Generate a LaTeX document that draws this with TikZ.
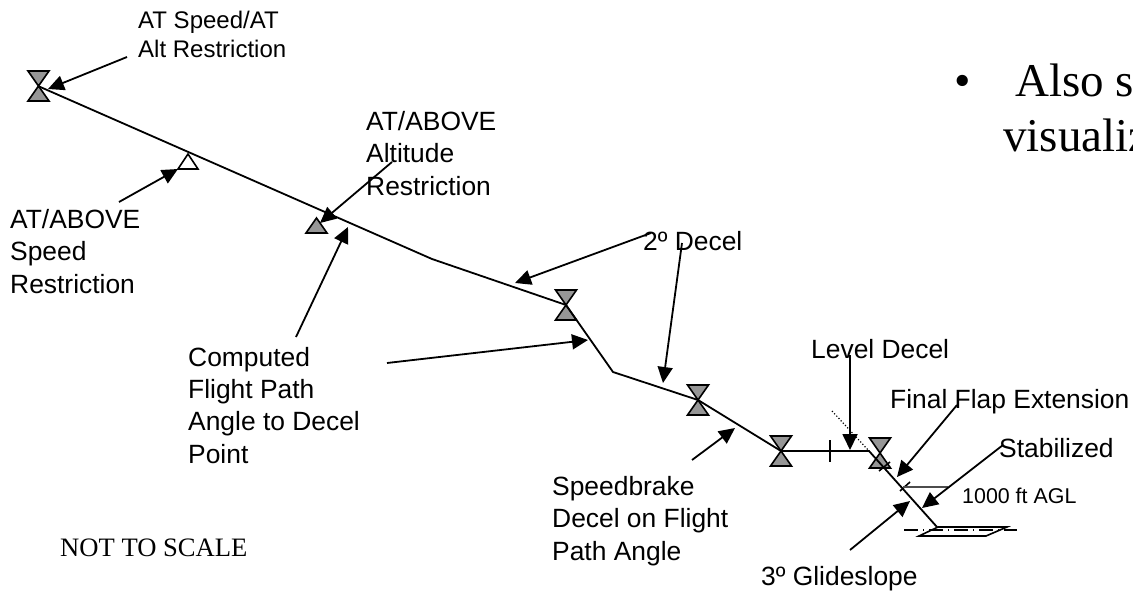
\documentclass[tikz,border=0pt]{standalone}
\usepackage{fontspec}
\setmainfont{Liberation Sans}
\newfontfamily\slidefont{Liberation Serif}
\usepackage{tikz}
\usetikzlibrary{arrows.meta}
\definecolor{FixGray}{HTML}{969696}
\tikzset{
  lbl/.style={anchor=base west,inner sep=0pt,align=left,font=\fontsize{26.4}{32.2}\selectfont},
  lblsmall/.style={anchor=base west,inner sep=0pt,align=left,font=\fontsize{24}{29}\selectfont},
  slidetext/.style={anchor=base west,inner sep=0pt,font=\slidefont\fontsize{47}{47}\selectfont},
  callout/.style={draw,line width=1.8pt,-{Triangle[length=16pt,width=15pt]}},
  flightpath/.style={draw,line width=1.8pt},
  hourglass/.pic={
    \draw[fill=FixGray,line width=1.6pt] (-10.5,-15) -- (10.5,-15) -- (0,0) -- cycle;
    \draw[fill=FixGray,line width=1.6pt] (-10.5,15) -- (10.5,15) -- (0,0) -- cycle;
  }
}
\begin{document}
\begin{tikzpicture}[x=1pt,y=-1pt]
  \useasboundingbox (0,0) rectangle (1133,591);
  \clip (0,0) rectangle (1133,591);

  % Flight path points
  \coordinate (fixA) at (38,86);
  \coordinate (bendA) at (432,259);
  \coordinate (fixB) at (566,305);
  \coordinate (bendB) at (613,372);
  \coordinate (fixC) at (698,400);
  \coordinate (fixD) at (781,451);
  \coordinate (levelEnd) at (869,451);
  \coordinate (touchdown) at (937,527);

  % Fix symbols
  \pic at (38.5,86) {hourglass};
  \pic at (fixB) {hourglass};
  \pic at (fixC) {hourglass};
  \pic at (fixD) {hourglass};
  \pic at (880,453) {hourglass};
  \draw[line width=1.6pt] (188,154) -- (198,169) -- (178,169) -- cycle;
  \draw[fill=FixGray,line width=1.6pt] (316.5,218) -- (327,233) -- (306,233) -- cycle;

  % Flight path
  \draw[flightpath] (fixA) -- (bendA) -- (fixB) -- (bendB) -- (fixC) -- (fixD) -- (levelEnd) -- (touchdown);
  \draw[line width=1.2pt,dotted] (832,411) -- (levelEnd);
  \draw[line width=1.6pt] (830,440) -- (830,462);
  \draw[line width=1.6pt] (879,471) -- (890,462);
  \draw[line width=1.6pt] (900,491) -- (910,482);
  \draw[line width=1.6pt,black!70] (903,487) -- (948,487);

  % Runway
  \draw[line width=1.6pt] (919,536) -- (938,527) -- (1007,527) -- (986,536) -- cycle;
  \draw[line width=1.6pt,dash pattern=on 14pt off 5pt on 1pt off 5pt] (904,530) -- (1017,530);

  % Labels
  \node[lblsmall] (speedalt) at (138,58) {AT Speed/AT\\Alt Restriction};
  \node[lbl] (abovespeed) at (10,293) {AT/ABOVE\\Speed\\Restriction};
  \node[lbl] (abovealt) at (366,195) {AT/ABOVE\\Altitude\\Restriction};
  \node[lbl] (computed) at (188,463) {Computed\\Flight Path\\Angle to Decel\\Point};
  \node[lbl] (twodecel) at (643,250) {2º Decel};
  \node[lbl] (leveldecel) at (811,358) {Level Decel};
  \node[lbl] (finalflap) at (890,408) {Final Flap Extension};
  \node[lbl] (stabilized) at (999,457) {Stabilized};
  \node[anchor=base west,inner sep=0pt,font=\fontsize{21.4}{26}\selectfont] (agl) at (962,503) {1000 ft AGL};
  \node[lbl] (speedbrake) at (552,560) {Speedbrake\\Decel on Flight\\Path Angle};
  \node[lbl] (glideslope) at (761,585) {3º Glideslope};
  \node[anchor=base west,inner sep=0pt,font=\slidefont\fontsize{26.6}{30}\selectfont] (notscale) at (60,556) {NOT TO SCALE};
  \node[slidetext] (bullet) at (954,97) {•};
  \node[slidetext] (alsotext) at (1015,97) {Also s};
  \node[slidetext] (vistext) at (1003,152) {visualiz};

  % Callouts
  \coordinate (tailA) at (127,57);
  \coordinate (tipA) at (48,89);
  \draw[callout] (tailA) -- (tipA);
  \coordinate (tailB) at (119,202);
  \coordinate (tipB) at (178,169);
  \draw[callout] (tailB) -- (tipB);
  \coordinate (tailC) at (392,162);
  \coordinate (tipC) at (320,223);
  \draw[callout] (tailC) -- (tipC);
  \coordinate (tailD) at (296,337);
  \coordinate (tipD) at (348,227);
  \draw[callout] (tailD) -- (tipD);
  \coordinate (tailE) at (651,233);
  \coordinate (tipE) at (515,283);
  \draw[callout] (tailE) -- (tipE);
  \coordinate (tailF) at (682,243);
  \coordinate (tipF) at (663,383);
  \draw[callout] (tailF) -- (tipF);
  \coordinate (tailG) at (387,363);
  \coordinate (tipG) at (588,340);
  \draw[callout] (tailG) -- (tipG);
  \coordinate (tailH) at (692,460);
  \coordinate (tipH) at (735,428);
  \draw[callout] (tailH) -- (tipH);
  \coordinate (tailI) at (850,355);
  \coordinate (tipI) at (850,450);
  \draw[callout] (tailI) -- (tipI);
  \coordinate (tailJ) at (957,405);
  \coordinate (tipJ) at (897,477);
  \draw[callout] (tailJ) -- (tipJ);
  \coordinate (tailK) at (1003,445);
  \coordinate (tipK) at (922,508);
  \draw[callout] (tailK) -- (tipK);
  \coordinate (tailL) at (850,550);
  \coordinate (tipL) at (910,501);
  \draw[callout] (tailL) -- (tipL);
\end{tikzpicture}
\end{document}
